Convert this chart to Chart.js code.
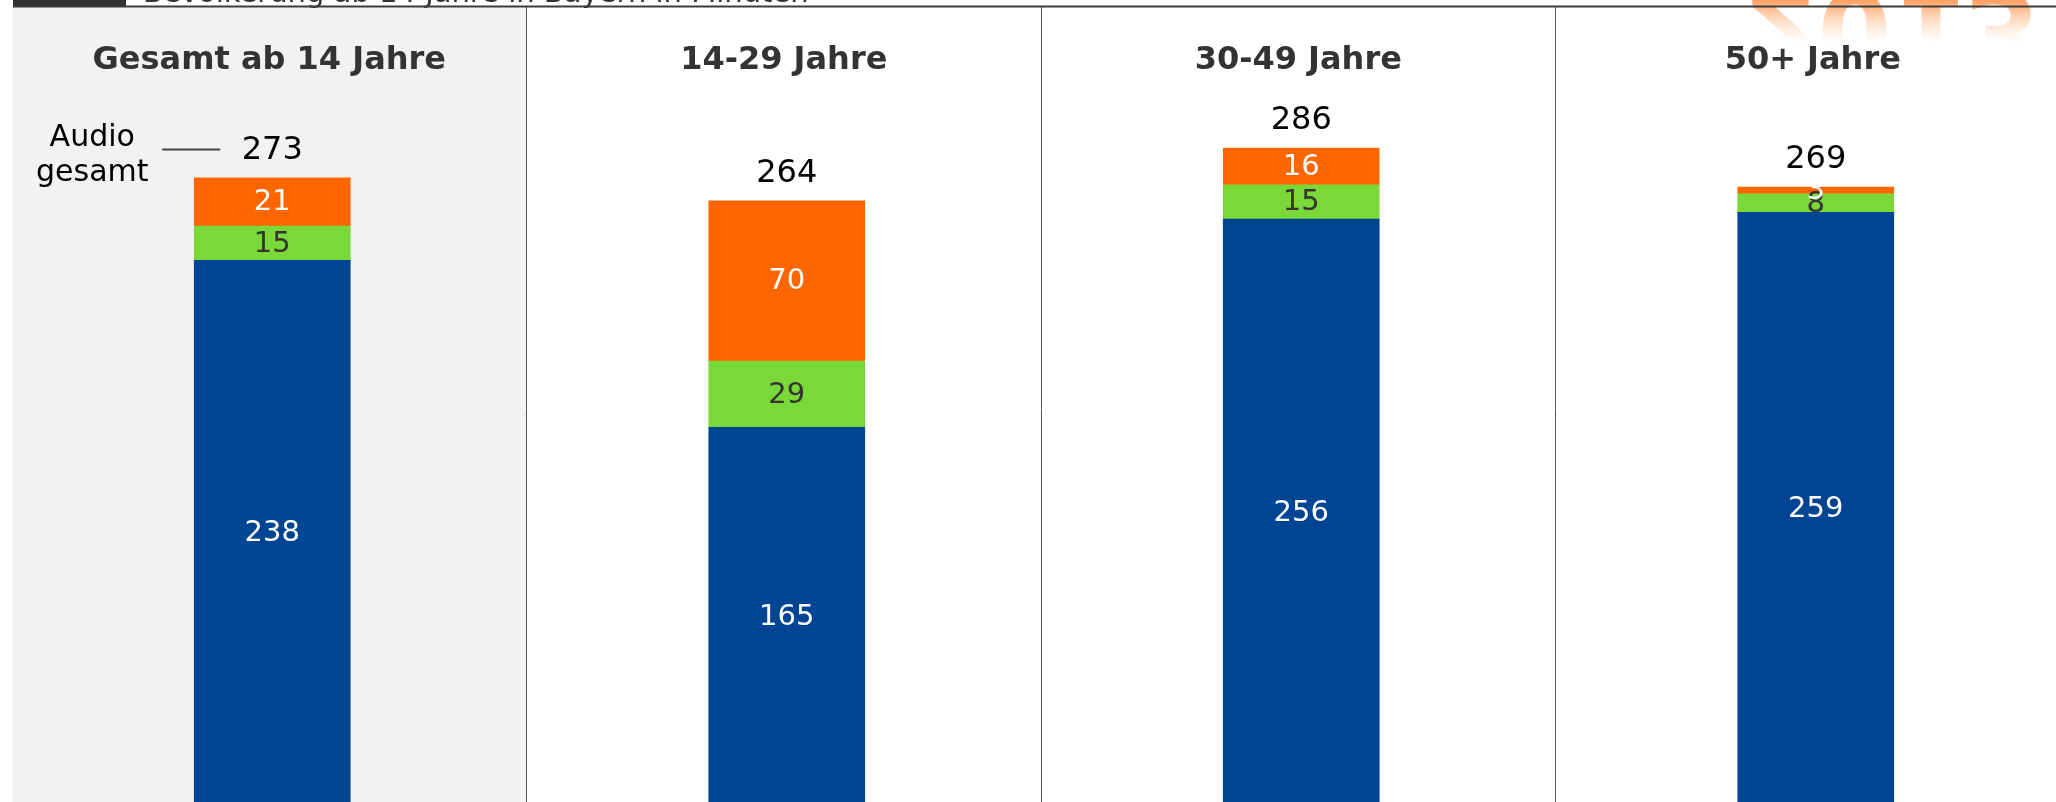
<!DOCTYPE html>
<html lang="de">
<head>
<meta charset="utf-8">
<title>Audio-Nutzung in Bayern</title>
<script src="https://cdn.jsdelivr.net/npm/chart.js@4/dist/chart.umd.min.js"></script>
<style>
  html, body { margin: 0; padding: 0; background: #fff; overflow: hidden; }
  #wrap { position: absolute; left: 0; top: 0; width: 2075px; height: 810px; }
  canvas { display: block; }
</style>
</head>
<body>
<div id="wrap"><canvas id="audioChart" width="2075" height="810"></canvas></div>
<script>
// data (minutes per day)
const categories = ['Gesamt ab 14 Jahre', '14-29 Jahre', '30-49 Jahre', '50+ Jahre'];
const radio = [238, 165, 256, 259];
const green = [15, 29, 15, 8];
const orange = [21, 70, 16, 3];
const totals = [273, 264, 286, 269];

const FONT = '"DejaVu Sans", Verdana, sans-serif';
const BLUE = '#004494';
const GREEN = '#7ad838';
const ORANGE = '#ff6600';

// grey first panel + thin dividers between the age groups
const panelPlugin = {
  id: 'panels',
  beforeDatasetsDraw(chart) {
    const { ctx, scales: { x } } = chart;
    const step = x.getPixelForValue(1) - x.getPixelForValue(0);
    ctx.save();
    const x0 = x.getPixelForValue(0);
    ctx.fillStyle = '#f2f2f2';
    ctx.fillRect(x0 - step / 2 - 2.5, 7, step - 1, chart.height);
    ctx.strokeStyle = '#555';
    ctx.lineWidth = 1;
    for (let i = 0; i < categories.length - 1; i++) {
      const xd = Math.round(x.getPixelForValue(i) + step / 2 - 3.5) + 0.5;
      ctx.beginPath();
      ctx.moveTo(xd, 7);
      ctx.lineTo(xd, chart.height);
      ctx.stroke();
    }
    ctx.restore();
  }
};

// segment values, totals, headers, title strip
const labelPlugin = {
  id: 'labels',
  afterDatasetsDraw(chart) {
    const { ctx, scales: { x } } = chart;
    ctx.save();
    ctx.textAlign = 'center';

    // values inside the segments
    ctx.font = '29px ' + FONT;
    ctx.textBaseline = 'middle';
    chart.data.datasets.forEach((ds, di) => {
      const meta = chart.getDatasetMeta(di);
      meta.data.forEach((bar, i) => {
        ctx.fillStyle = di === 1 ? '#333' : '#fff';
        ctx.fillText(String(ds.data[i]), bar.x, (bar.y + bar.base) / 2 + 1);
      });
    });

    // totals above the bars
    const top = chart.getDatasetMeta(chart.data.datasets.length - 1).data;
    ctx.font = '32px ' + FONT;
    ctx.textBaseline = 'alphabetic';
    ctx.fillStyle = '#000';
    top.forEach((bar, i) => {
      ctx.fillText(String(totals[i]), bar.x, bar.y - 19);
    });

    // "Audio gesamt" callout next to first total
    const b0 = top[0];
    ctx.font = '30px ' + FONT;
    ctx.fillText('Audio', b0.x - 180, b0.y - 31.5);
    ctx.fillText('gesamt', b0.x - 180, b0.y + 3.5);
    ctx.strokeStyle = '#444';
    ctx.lineWidth = 2;
    ctx.beginPath();
    ctx.moveTo(b0.x - 110, b0.y - 28.5);
    ctx.lineTo(b0.x - 52, b0.y - 28.5);
    ctx.stroke();

    // panel headers
    ctx.font = 'bold 32px ' + FONT;
    ctx.fillStyle = '#333';
    categories.forEach((c, i) => {
      ctx.fillText(c, x.getPixelForValue(i) - 3, 69);
    });

    // mirrored "2013" logo reflection, top right
    ctx.save();
    ctx.translate(0, -8);
    ctx.scale(1, -1);
    const grad = ctx.createLinearGradient(0, 0, 0, -50);
    grad.addColorStop(0, 'rgba(255,120,30,0.95)');
    grad.addColorStop(0.45, 'rgba(255,150,80,0.45)');
    grad.addColorStop(1, 'rgba(255,190,140,0)');
    ctx.fillStyle = grad;
    ctx.font = 'bold 106px ' + FONT;
    ctx.textAlign = 'left';
    ctx.fillText('2013', 1744, 0);
    ctx.restore();

    // title strip, mostly cut off at the top
    ctx.fillStyle = '#333';
    ctx.fillRect(13, 0, 113, 7);
    ctx.textAlign = 'left';
    ctx.font = '29px ' + FONT;
    ctx.fillText('Bevölkerung ab 14 Jahre in Bayern in Minuten', 143, 2);
    ctx.strokeStyle = '#3c3c3c';
    ctx.lineWidth = 2;
    ctx.beginPath();
    ctx.moveTo(13, 6.5);
    ctx.lineTo(chart.width, 6.5);
    ctx.stroke();

    ctx.restore();
  }
};

const chart = new Chart(document.getElementById('audioChart'), {
  type: 'bar',
  data: {
    labels: categories,
    datasets: [
      { label: 'Radio', data: radio, backgroundColor: BLUE },
      { label: 'Tonträger', data: green, backgroundColor: GREEN },
      { label: 'Online-Audio', data: orange, backgroundColor: ORANGE }
    ]
  },
  options: {
    responsive: false,
    animation: false,
    layout: { padding: { left: 15, right: 2, top: 4, bottom: 5 } },
    datasets: { bar: { barThickness: 156, borderWidth: 0 } },
    scales: {
      x: { stacked: true, display: false },
      y: { stacked: true, display: false, min: 0, max: 350 }
    },
    plugins: {
      legend: { display: false },
      tooltip: { enabled: false }
    }
  },
  plugins: [panelPlugin, labelPlugin]
});
</script>
</body>
</html>
